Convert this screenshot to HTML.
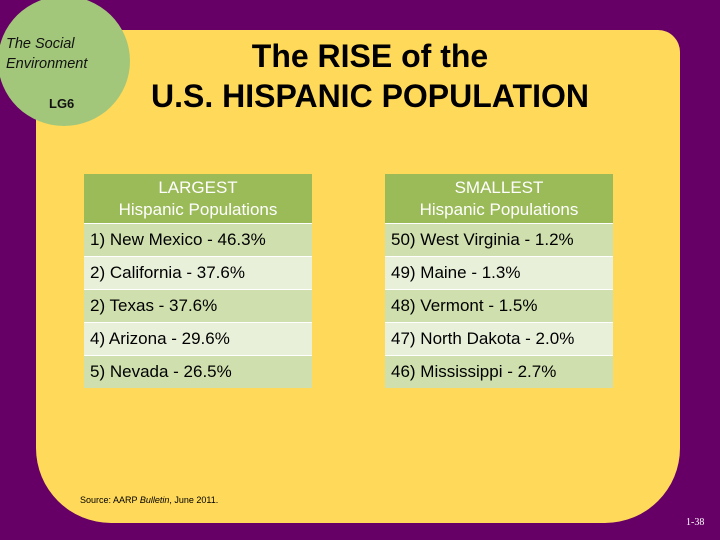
<!DOCTYPE html>
<html><head><meta charset="utf-8"><style>
body{margin:0;width:720px;height:540px;background:#660066;position:relative;overflow:hidden;font-family:"Liberation Sans",Arial,sans-serif}
.panel{position:absolute;left:36px;top:30px;width:644px;height:493px;background:#ffd95a;border-radius:0 22px 75px 75px}
.circle{position:absolute;left:-2px;top:-4px;width:132px;height:130px;border-radius:50%;background:#a3c77a}
.ct{position:absolute;left:8px;top:38px;font-style:italic;font-size:14.5px;line-height:20px;color:#111}
.lg{position:absolute;left:51px;top:100px;font-weight:bold;font-size:13px;color:#111}
.title{position:absolute;left:120px;top:36px;width:500px;text-align:center;font-weight:bold;font-size:32px;line-height:40px;color:#000}
table{position:absolute;top:174px;border-collapse:collapse;width:228px;font-size:17px}
th{background:#9bbb59;color:#fff;font-weight:normal;height:49px;font-size:17px;line-height:22px;padding:0}
td{height:32px;padding:0 0 0 6px;color:#000;border-top:1px solid #fff}
tr.a td{background:#cfdfae}
tr.b td{background:#e8f0da}
.src{position:absolute;left:80px;top:495px;font-size:9px;color:#000}
.pg{position:absolute;left:686px;top:517px;font-size:10px;color:#fff;font-family:"Liberation Serif",serif}
</style></head><body>
<div class="panel"></div>
<div class="circle">
<div class="ct">The Social<br>Environment</div>
<div class="lg">LG6</div>
</div>
<div class="title">The RISE of the<br>U.S. HISPANIC POPULATION</div>
<table style="left:84px">
<tr><th>LARGEST<br>Hispanic Populations</th></tr>
<tr class="a"><td>1) New Mexico - 46.3%</td></tr>
<tr class="b"><td>2) California - 37.6%</td></tr>
<tr class="a"><td>2) Texas - 37.6%</td></tr>
<tr class="b"><td>4) Arizona - 29.6%</td></tr>
<tr class="a"><td>5) Nevada - 26.5%</td></tr>
</table>
<table style="left:385px">
<tr><th>SMALLEST<br>Hispanic Populations</th></tr>
<tr class="a"><td>50) West Virginia - 1.2%</td></tr>
<tr class="b"><td>49) Maine - 1.3%</td></tr>
<tr class="a"><td>48) Vermont - 1.5%</td></tr>
<tr class="b"><td>47) North Dakota - 2.0%</td></tr>
<tr class="a"><td>46) Mississippi - 2.7%</td></tr>
</table>
<div class="src">Source: AARP <i>Bulletin</i>, June 2011.</div>
<div class="pg">1-38</div>
</body></html>
